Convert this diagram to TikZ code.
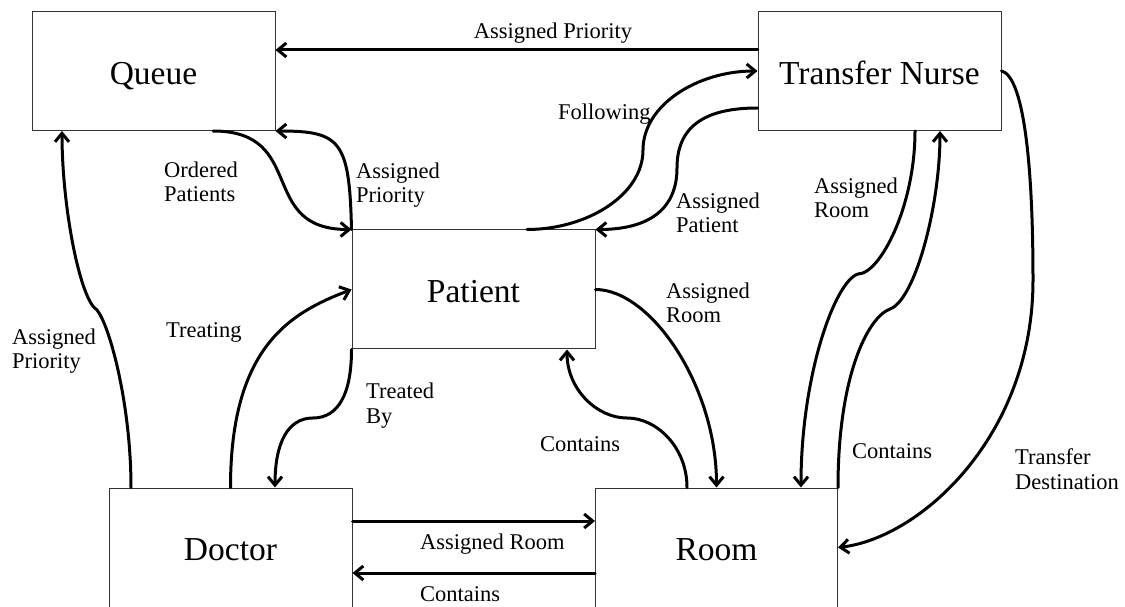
\documentclass[tikz,border=0pt]{standalone}
\usepackage{fontspec}
\setmainfont{Liberation Serif}
\usetikzlibrary{arrows.meta}
\begin{document}
\begin{tikzpicture}[x=1pt,y=1pt,
  entity/.style={draw=black!80, line width=1pt, fill=white, minimum width=243pt,
    minimum height=119pt, inner sep=0pt, text height=30.6pt, text depth=4pt,
    font=\fontsize{33.5}{40}\selectfont},
  conn/.style={line width=3pt, line cap=round,
    -{Straight Barb[length=8.5pt,width=14pt]}},
  lbl/.style={inner sep=0pt, align=left, anchor=base west,
    font=\fontsize{22.5}{24.5}\selectfont}]
\useasboundingbox (0,0) rectangle (1125,606);
\clip (0,0) rectangle (1125,606);

% entities
\node[entity] (queue)   at (153.5,535)  {Queue};
\node[entity] (nurse)   at (879.5,535)  {Transfer Nurse};
\node[entity] (patient) at (473.5,316.5) {Patient};
\node[entity] (doctor)  at (230.5,58.5) {Doctor};
\node[entity, minimum width=242pt] (room) at (716.5,58.5) {Room};

% bend points of the S-shaped connectors
\coordinate (fm) at (643,456);
\coordinate (pm) at (677,438);
\coordinate (qm) at (97,296);
\coordinate (tm) at (313,188);
\coordinate (cm) at (627,188);
\coordinate (am) at (858,332);
\coordinate (bm) at (890,297);
\coordinate (dm) at (1033,326);

% straight connectors
\draw[conn] ([yshift=21pt]nurse.west) -- ([yshift=21pt]queue.east);
\draw[conn] ([yshift=26.5pt]doctor.east) -- ([yshift=26.5pt]room.west);
\draw[conn] ([yshift=-25.5pt]room.west) -- ([yshift=-25.5pt]doctor.east);

% curved connectors
\draw[conn] ([xshift=59.5pt]queue.south) .. controls +(95,0) and +(-95,0) .. (patient.north west);
\draw[conn] (patient.north west) .. controls +(-2,89) and +(65,0) .. (queue.south east);
\draw[conn] ([xshift=53.5pt]patient.north) .. controls +(60,0) and +(0,-45) .. (fm)
  .. controls +(0,45) and +(-60,0) .. (nurse.west);
\draw[conn] ([yshift=-37pt]nurse.west) .. controls +(-55,0) and +(0,40) .. (pm)
  .. controls +(0,-40) and +(55,0) .. (patient.north east);
\draw[conn] ([xshift=-99.5pt]doctor.north) .. controls +(0,82) and +(13,-16) .. (qm)
  .. controls +(-17,10) and +(0,-76) .. ([xshift=-91.5pt]queue.south);
\draw[conn] (doctor.north) .. controls +(0,142) and +(-60,-23) .. (patient.west);
\draw[conn] (patient.south west) .. controls +(0,-45) and +(25,0) .. (tm)
  .. controls +(-25,0) and +(0,45) .. ([xshift=44.5pt]doctor.north);
\draw[conn] (patient.east) .. controls +(55,0) and +(0,102) .. (room.north);
\draw[conn] ([xshift=-29.5pt]room.north) .. controls +(0,40) and +(30,0) .. (cm)
  .. controls +(-30,0) and +(0,-40) .. ([xshift=93.5pt]patient.south);
\draw[conn] ([xshift=35.5pt]nurse.south) .. controls +(0,-75.5) and +(22,0) .. (am)
  .. controls +(-23,-7) and +(0,112) .. ([xshift=84.5pt]room.north);
\draw[conn] (room.north east) .. controls +(0,112) and +(-22,-8) .. (bm)
  .. controls +(25,9) and +(0,-75.5) .. ([xshift=60.5pt]nurse.south);
\draw[conn] (nurse.east) .. controls +(21,-5) and +(0,124) .. (dm)
  .. controls +(0,-156) and +(82.5,9.5) .. (room.east);

% relation labels (two-line labels are placed by the baseline of their last line)
\node[lbl, anchor=base] (l1) at (553,567) {Assigned Priority};
\node[lbl] (l2)  at (164,404) {Ordered\\Patients};
\node[lbl] (l3)  at (356,403) {Assigned\\Priority};
\node[lbl] (l4)  at (558,486) {Following};
\node[lbl] (l5)  at (676,373) {Assigned\\Patient};
\node[lbl] (l6)  at (12,237)  {Assigned\\Priority};
\node[lbl] (l7)  at (166,268) {Treating};
\node[lbl] (l8)  at (366,183) {Treated\\By};
\node[lbl] (l9)  at (666,283) {Assigned\\Room};
\node[lbl] (l10) at (540,155) {Contains};
\node[lbl] (l11) at (814,388) {Assigned\\Room};
\node[lbl] (l12) at (852,148) {Contains};
\node[lbl] (l13) at (1015,117) {Transfer\\Destination};
\node[lbl] (l14) at (420,57)  {Assigned Room};
\node[lbl] (l15) at (420,5)   {Contains};
\end{tikzpicture}
\end{document}
